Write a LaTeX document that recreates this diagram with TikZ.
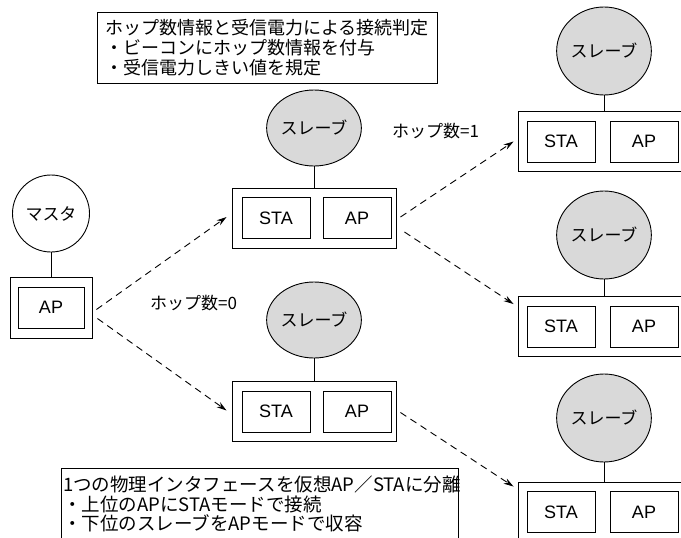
\documentclass[tikz,border=0pt]{standalone}
\usepackage{fontspec}
\setmainfont{Noto Sans CJK JP}
\newfontfamily\latinlbl{Liberation Sans}
\usetikzlibrary{shapes.geometric,arrows.meta}
\tikzset{
  ln/.style={line width=0.9pt},
  jp/.style={font=\fontsize{17}{20.5}\selectfont},
  notefont/.style={font=\fontsize{18}{20}\selectfont},
  outerbox/.style={draw, line width=0.9pt, minimum width=168pt, minimum height=60pt, inner sep=0pt},
  innerbox/.style={draw, line width=0.9pt, minimum width=68pt, minimum height=41pt, inner sep=0pt, font=\latinlbl\fontsize{18}{20}\selectfont},
  slave/.style={ellipse, draw, fill=black!15, line width=0.9pt, minimum width=84pt, minimum height=76pt, inner sep=0pt, jp},
  rslave/.style={slave, minimum width=86pt, minimum height=88pt},
  master/.style={ellipse, draw, fill=white, line width=0.9pt, minimum width=77pt, minimum height=77pt, inner sep=0pt, jp},
  link/.style={line width=0.9pt, dash pattern=on 7pt off 5pt, -{Stealth[length=10pt,width=6pt]}},
  frame/.style={draw, line width=0.9pt, anchor=north west, inner sep=0pt},
  notetext/.style={notefont, align=left, anchor=north west, inner sep=0pt},
  lbl/.style={jp, inner sep=0pt, anchor=west}
}
\begin{document}
\begin{tikzpicture}[x=1pt,y=-1pt]
\useasboundingbox (0,0) rectangle (681,538);
\clip (0,0) rectangle (681,538);
\fill[white] (0,0) rectangle (681,538);

% notes
\node[frame, minimum width=340pt, minimum height=71pt] (topframe) at (97,12) {};
\node[notetext] (toptext) at (105,19)
  {ホップ数情報と受信電力による接続判定\\・ビーコンにホップ数情報を付与\\・受信電力しきい値を規定};
\node[frame, minimum width=397pt, minimum height=90pt] (botframe) at (61,468) {};
\node[notetext, font=\fontsize{18.5}{19.5}\selectfont] (bottext) at (63,476)
  {1つの物理インタフェースを仮想AP／STAに分離\\・上位のAPにSTAモードで接続\\・下位のスレーブをAPモードで収容};

% master
\node[master] (mst) at (51,213.5) {マスタ};
\node[outerbox, minimum width=82pt, minimum height=61pt] (mbox) at (51,307.5) {};
\node[innerbox, minimum width=66pt] (map) at (51,307.5) {AP};
\draw[ln] (mst) -- (mbox);

% middle top slave
\node[slave] (mts) at (314,128) {スレーブ};
\node[outerbox, minimum width=164pt] (mtbox) at (314,218) {};
\node[innerbox] (mtsta) at (276,218) {STA};
\node[innerbox] (mtap) at (357,218) {AP};
\draw[ln] (mts) -- (mtbox);

% middle bottom slave
\node[slave] (mbs) at (314,320) {スレーブ};
\node[outerbox, minimum width=164pt] (mbbox) at (314,411.5) {};
\node[innerbox] (mbsta) at (276,411.5) {STA};
\node[innerbox] (mbap) at (357,411.5) {AP};
\draw[ln] (mbs) -- (mbbox);

% right top
\node[rslave] (rts) at (604,51) {スレーブ};
\node[outerbox] (rtbox) at (602,141.5) {};
\node[innerbox] (rtsta) at (561,141.5) {STA};
\node[innerbox] (rtap) at (644,141.5) {AP};
\draw[ln] (rts) -- (rts |- rtbox.north);

% right middle
\node[rslave] (rms) at (604,235) {スレーブ};
\node[outerbox] (rmbox) at (602,326.5) {};
\node[innerbox] (rmsta) at (561,326.5) {STA};
\node[innerbox] (rmap) at (644,326.5) {AP};
\draw[ln] (rms) -- (rms |- rmbox.north);

% right bottom
\node[rslave] (rbs) at (604,418) {スレーブ};
\node[outerbox] (rbbox) at (602,512) {};
\node[innerbox] (rbsta) at (561,512) {STA};
\node[innerbox] (rbap) at (644,512) {AP};
\draw[ln] (rbs) -- (rbs |- rbbox.north);

% links
\draw[link] ([xshift=4pt,yshift=-2pt]mbox.east) -- ([xshift=-5pt,yshift=1pt]mtbox.west);
\draw[link] ([xshift=5pt,yshift=-11pt]mbox.east) -- ([xshift=-5pt,yshift=1pt]mbbox.west);
\draw[link] ([xshift=4pt,yshift=1pt]mtbox.east) -- ([xshift=-4pt]rtbox.west);
\draw[link] ([xshift=8pt,yshift=-14pt]mtbox.east) -- ([xshift=-4pt,yshift=-8pt]rmbox.north west);
\draw[link] ([xshift=4pt,yshift=-1pt]mbbox.east) -- ([xshift=-4pt,yshift=-5pt]rbbox.north west);

% labels
\node[lbl] (hop1) at (392,131) {ホップ数=1};
\node[lbl] (hop0) at (150,303) {ホップ数=0};
\end{tikzpicture}
\end{document}
